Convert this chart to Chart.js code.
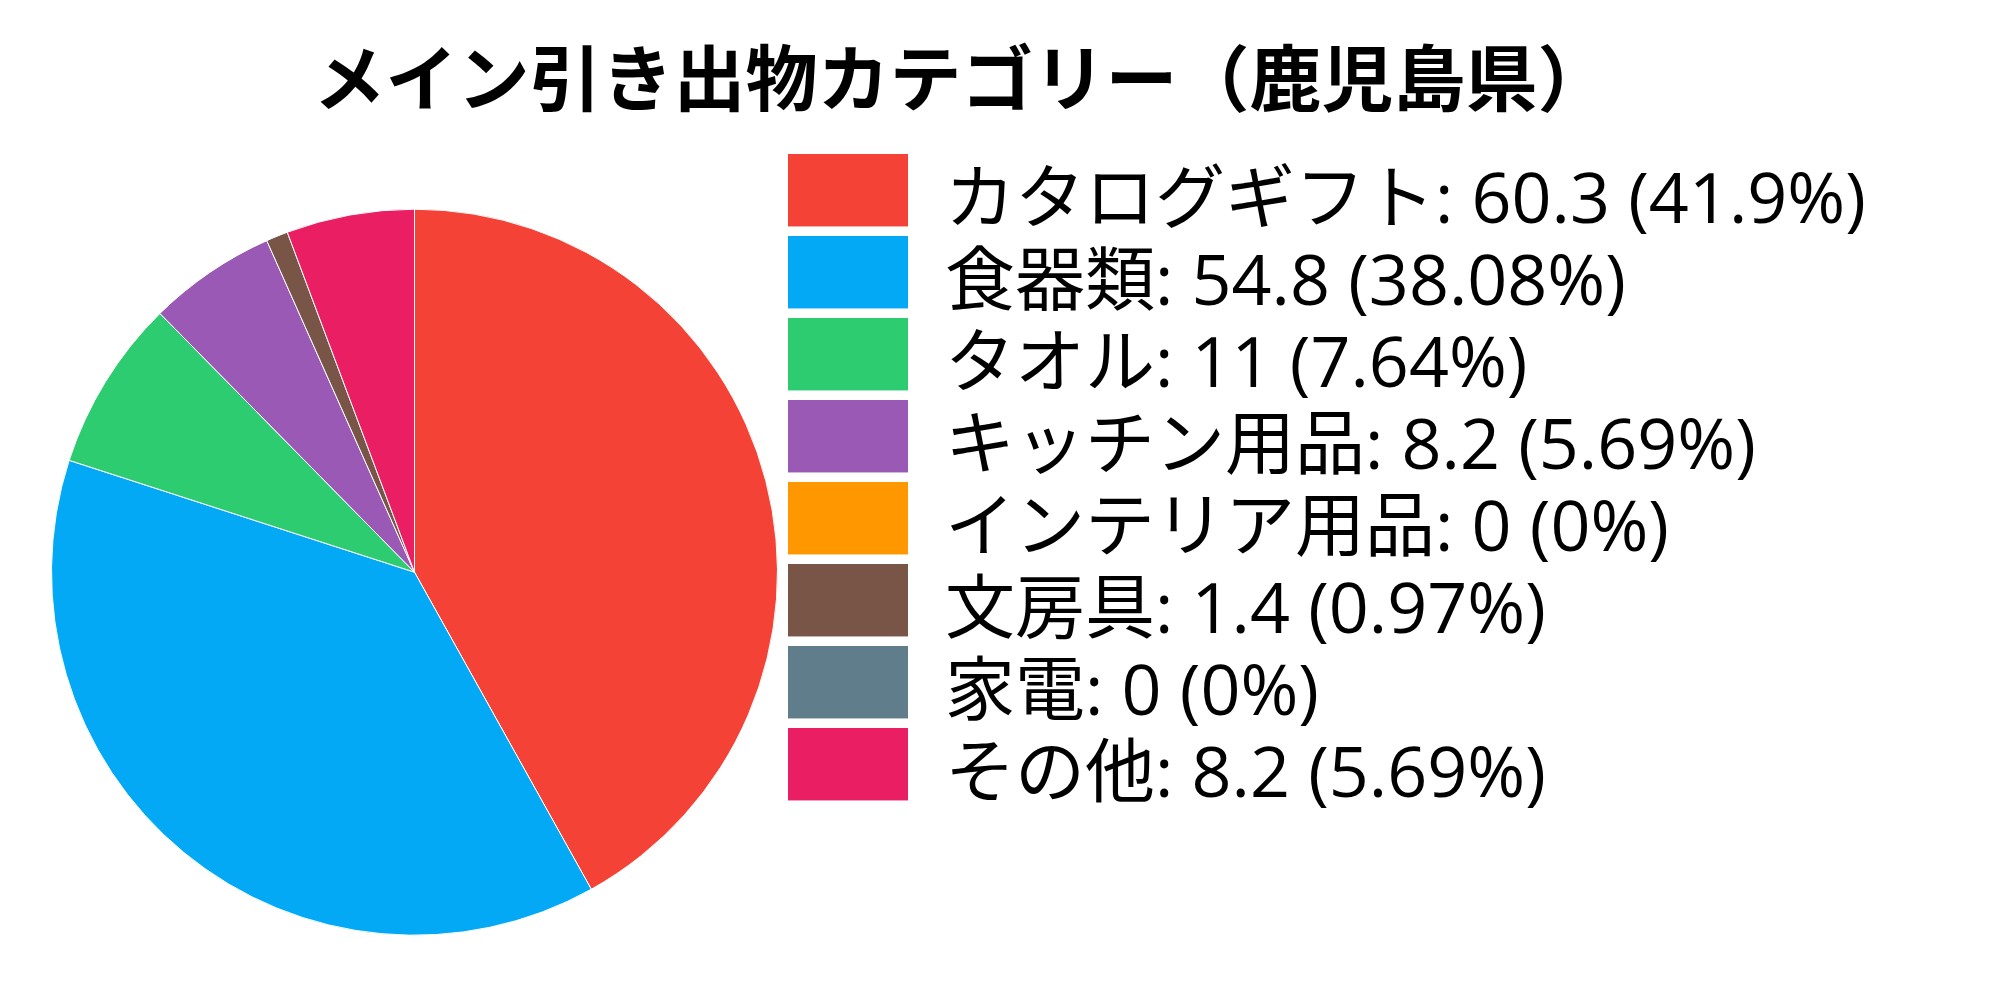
<!DOCTYPE html>
<html lang="ja">
<head>
  <meta charset="UTF-8" />
  <title>メイン引き出物カテゴリー（鹿児島県）</title>
  <script src="https://cdn.jsdelivr.net/npm/chart.js"></script>
  <style>
    html, body {
      margin: 0;
      padding: 0;
      background: #ffffff;
    }
    .wrap {
      position: relative;
      width: 2000px;
      height: 1000px;
    }
  </style>
</head>
<body>
  <div class="wrap">
    <canvas id="giftChart"></canvas>
  </div>

  <script>
    const categories = ['カタログギフト', '食器類', 'タオル', 'キッチン用品', 'インテリア用品', '文房具', '家電', 'その他'];
    const values = [60.3, 54.8, 11, 8.2, 0, 1.4, 0, 8.2];
    const shares = ['41.9', '38.08', '7.64', '5.69', '0', '0.97', '0', '5.69'];
    const colors = ['#F44336', '#03A9F4', '#2ECC71', '#9B59B6', '#FF9800', '#795548', '#607D8B', '#E91E63'];

    const TITLE_FONT = "'Noto Sans CJK JP', sans-serif";
    const LEGEND_FONT = "'Open Sans', 'Noto Sans CJK JP', sans-serif";

    // legend swatch: 120x72 block sitting a bit above the text line
    function makeSwatch(color) {
      const c = document.createElement('canvas');
      c.width = 124;
      c.height = 98;
      const g = c.getContext('2d');
      g.fillStyle = color;
      g.fillRect(0, 0, 120, 72);
      return c;
    }
    const swatches = colors.map(makeSwatch);

    const ctx = document.getElementById('giftChart').getContext('2d');
    const baseLabels = Chart.overrides.pie.plugins.legend.labels.generateLabels;

    new Chart(ctx, {
      type: 'pie',
      data: {
        labels: categories,
        datasets: [{
          data: values,
          backgroundColor: colors,
          borderColor: '#ffffff',
          borderWidth: 1
        }]
      },
      options: {
        responsive: true,
        maintainAspectRatio: false,
        devicePixelRatio: 1,
        animation: false,
        layout: {
          padding: { left: 51, right: 128, top: 0, bottom: 0 }
        },
        plugins: {
          title: {
            display: true,
            text: 'メイン引き出物カテゴリー（鹿児島県）',
            color: '#000000',
            font: { family: TITLE_FONT, size: 72, weight: 'bold', lineHeight: 1.2 },
            padding: { top: 34, bottom: 24 }
          },
          legend: {
            position: 'right',
            align: 'start',
            fullSize: false,
            maxWidth: 1094,
            title: {
              display: true,
              text: '',
              font: { size: 10, lineHeight: 1.2 },
              padding: 0
            },
            labels: {
              color: '#000000',
              font: { family: LEGEND_FONT, size: 70 },
              usePointStyle: true,
              pointStyleWidth: 120,
              boxHeight: 70,
              padding: 12,
              generateLabels: chart => baseLabels(chart).map((item, i) => ({
                ...item,
                pointStyle: swatches[i],
                text: categories[i] + ': ' + values[i] + ' (' + shares[i] + '%)'
              }))
            }
          },
          tooltip: { enabled: false }
        }
      }
    });
  </script>
</body>
</html>
